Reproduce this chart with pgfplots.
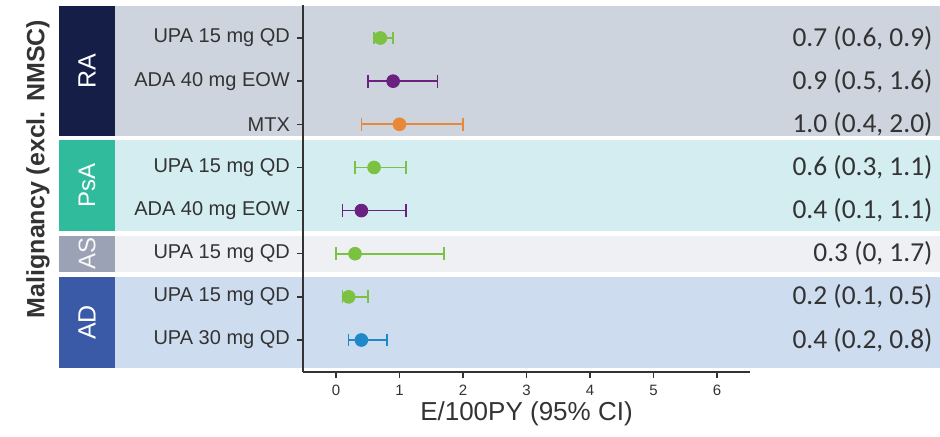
\documentclass[border=0pt]{standalone}
\usepackage{pgfplots}
\pgfplotsset{compat=1.18}
\usepackage{fontspec}
\setmainfont{Liberation Sans}
\newfontfamily\calfont{Carlito}
\definecolor{RAbox}{RGB}{20,30,70}
\definecolor{RAband}{RGB}{205,212,221}
\definecolor{PsAbox}{RGB}{47,187,156}
\definecolor{PsAband}{RGB}{211,237,241}
\definecolor{ASbox}{RGB}{155,162,181}
\definecolor{ASband}{RGB}{238,240,244}
\definecolor{ADbox}{RGB}{58,90,168}
\definecolor{ADband}{RGB}{206,220,239}
\definecolor{cgreen}{RGB}{124,194,66}
\definecolor{cpurple}{RGB}{107,33,128}
\definecolor{corange}{RGB}{232,137,58}
\definecolor{cblue}{RGB}{30,136,200}
\definecolor{txt}{RGB}{51,51,51}
\pgfplotsset{
  ci/.style={color=#1, line width=0.8pt, mark=|, mark size=3.2pt, mark options={line width=0.8pt}},
  pt/.style={color=#1, only marks, mark=*, mark size=3.2pt},
}
\begin{document}
\begin{tikzpicture}
\begin{axis}[
  scale only axis,
  width=223.5pt, height=183.5pt,
  xmin=-0.52, xmax=6.52,
  ymin=0.235, ymax=8.742,
  y dir=reverse,
  clip=false,
  axis on top,
  axis x line=bottom, axis y line=left,
  axis line style={-, draw=txt, line width=0.8pt},
  tick style={draw=txt, line width=0.7pt},
  tick align=outside,
  major tick length=3pt,
  xtick={0,1,2,3,4,5,6},
  ytick={1,2,3,4,5,6,7,8},
  yticklabels={UPA 15 mg QD, ADA 40 mg EOW, MTX, UPA 15 mg QD, ADA 40 mg EOW, UPA 15 mg QD, UPA 15 mg QD, UPA 30 mg QD},
  /pgf/number format/assume math mode=true,
  xticklabel style={font=\fontsize{7.5}{8}\selectfont, text=txt},
  yticklabel style={font=\fontsize{10}{11}\selectfont, text=txt},
  xlabel={E/100PY (95\% CI)},
  xlabel style={font=\fontsize{13}{15}\selectfont, text=txt, yshift=4pt},
]
% bands
\fill[RAband] (axis cs:-3.48,0.258) rectangle (axis cs:9.512,3.27);
\fill[PsAband] (axis cs:-3.48,3.36) rectangle (axis cs:9.512,5.47);
\fill[ASband] (axis cs:-3.48,5.59) rectangle (axis cs:9.512,6.42);
\fill[ADband] (axis cs:-3.48,6.54) rectangle (axis cs:9.512,8.65);
\fill[RAbox] (axis cs:-4.362,0.258) rectangle (axis cs:-3.48,3.27);
\fill[PsAbox] (axis cs:-4.362,3.36) rectangle (axis cs:-3.48,5.47);
\fill[ASbox] (axis cs:-4.362,5.59) rectangle (axis cs:-3.48,6.42);
\fill[ADbox] (axis cs:-4.362,6.54) rectangle (axis cs:-3.48,8.65);
\node[rotate=90, text=white, font=\fontsize{12.5}{14}\selectfont] at (axis cs:-3.921,1.764) {RA};
\node[rotate=90, text=white, font=\fontsize{12}{14}\selectfont] at (axis cs:-3.921,4.415) {PsA};
\node[rotate=90, text=white!92!ASbox, font=\fontsize{12}{14}\selectfont] at (axis cs:-3.921,6.005) {AS};
\node[rotate=90, text=white, font=\fontsize{12.5}{14}\selectfont] at (axis cs:-3.921,7.595) {AD};
\node[rotate=90, font=\bfseries\fontsize{12.5}{14}\selectfont, text=txt] at (axis cs:-4.693,4.037) {Malignancy (excl. NMSC)};
% confidence intervals (lower, upper)
\addplot[ci=cgreen] coordinates {(0.6,1) (0.9,1)};
\addplot[ci=cpurple] coordinates {(0.5,2) (1.6,2)};
\addplot[ci=corange] coordinates {(0.4,3) (2.0,3)};
\addplot[ci=cgreen] coordinates {(0.3,4) (1.1,4)};
\addplot[ci=cpurple] coordinates {(0.1,5) (1.1,5)};
\addplot[ci=cgreen] coordinates {(0.0,6) (1.7,6)};
\addplot[ci=cgreen] coordinates {(0.1,7) (0.5,7)};
\addplot[ci=cblue] coordinates {(0.2,8) (0.8,8)};
% point estimates
\addplot[pt=cgreen] coordinates {(0.7,1) (0.6,4) (0.3,6) (0.2,7)};
\addplot[pt=cpurple] coordinates {(0.9,2) (0.4,5)};
\addplot[pt=corange] coordinates {(1.0,3)};
\addplot[pt=cblue] coordinates {(0.4,8)};
% right values
\begin{scope}[every node/.style={anchor=east, font=\calfont\fontsize{13.7}{15}\selectfont, text=txt, inner sep=0pt}]
\node at (axis cs:9.40,1) {0.7 (0.6, 0.9)};
\node at (axis cs:9.40,2) {0.9 (0.5, 1.6)};
\node at (axis cs:9.40,3) {1.0 (0.4, 2.0)};
\node at (axis cs:9.40,4) {0.6 (0.3, 1.1)};
\node at (axis cs:9.40,5) {0.4 (0.1, 1.1)};
\node at (axis cs:9.40,6) {0.3 (0, 1.7)};
\node at (axis cs:9.40,7) {0.2 (0.1, 0.5)};
\node at (axis cs:9.40,8) {0.4 (0.2, 0.8)};
\end{scope}
\coordinate (bbSW) at (axis cs:-5.291,10.226);
\coordinate (bbNE) at (axis cs:9.512,0.119);
\end{axis}
\pgfresetboundingbox
\path[use as bounding box] (bbSW) rectangle (bbNE);
\end{tikzpicture}
\end{document}
